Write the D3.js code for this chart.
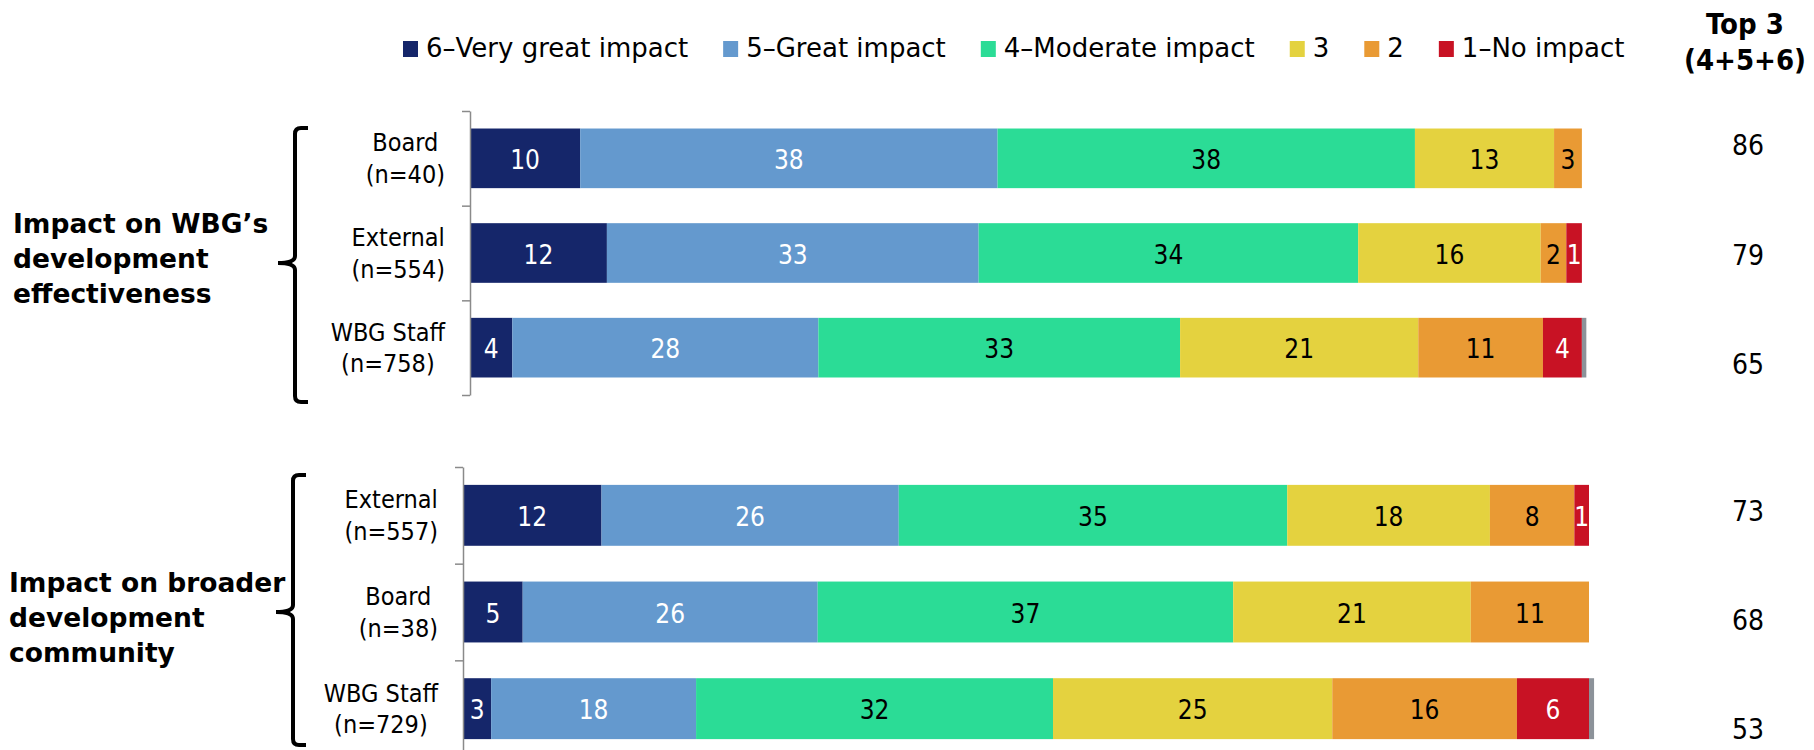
<!DOCTYPE html>
<html>
<head>
<meta charset="utf-8">
<script src="https://cdn.jsdelivr.net/npm/d3@7"></script>
<style>
  body { margin: 0; background: #fff; }
  svg { display: block; }
</style>
</head>
<body>
<svg></svg>
<script>
// impact ratings, stacked 100% bars in two blocks

// --- data ---
const seriesKeys = ['6–Very great impact', '5–Great impact', '4–Moderate impact', '3', '2', '1–No impact', 'No answer'];
const seriesColors = ['#15266a', '#6499ce', '#2bdc96', '#e4d23f', '#e99a34', '#c81224', '#8c9299'];
const darkText = ['4–Moderate impact', '3', '2'];

const effTitle = ['Impact on WBG’s', 'development', 'effectiveness'];
const effRows = [['Board', '(n=40)'], ['External', '(n=554)'], ['WBG Staff', '(n=758)']];
const effValues = [
  [9.9, 37.5, 37.5, 12.5, 2.5, 0, 0],
  [12.3, 33.4, 34.1, 16.4, 2.3, 1.4, 0],
  [3.8, 27.5, 32.5, 21.4, 11.2, 3.5, 0.4]
];
const effTop3 = [86, 79, 65];

const comTitle = ['Impact on broader', 'development', 'community'];
const comRows = [['External', '(n=557)'], ['Board', '(n=38)'], ['WBG Staff', '(n=729)']];
const comValues = [
  [12.3, 26.4, 34.5, 18.0, 7.5, 1.3, 0],
  [5.3, 26.2, 36.9, 21.1, 10.5, 0, 0],
  [2.5, 18.2, 31.7, 24.8, 16.4, 6.4, 0.45]
];
const comTop3 = [73, 68, 53];

const top3Header = ['Top 3', '(4+5+6)'];

// --- setup ---
const width = 1814,
      height = 750;

const condFont = "'DejaVu Sans Condensed', 'DejaVu Sans', sans-serif";
const plainFont = "'DejaVu Sans', Verdana, sans-serif";

const svg = d3.select('svg')
              .attr('width', width)
              .attr('height', height);

const color = d3.scaleOrdinal().domain(seriesKeys).range(seriesColors);

// layout of the two blocks (pixels)
const effLayout = { x0: 470, x1: 1583, y0: 111, y1: 395, braceX: 295, braceTop: 128, braceBot: 402, braceMid: 263,
                    titleX: 13, titleY: 233, top3Range: [145, 364] };
const comLayout = { x0: 463, x1: 1589, y0: 467, y1: 757, braceX: 293, braceTop: 475, braceBot: 745, braceMid: 612,
                    titleX: 9, titleY: 592, top3Range: [511, 729] };

drawBlock(effLayout, effTitle, effRows, effValues, effTop3);
drawBlock(comLayout, comTitle, comRows, comValues, comTop3);
drawLegend();
drawHeader();

function drawBlock(cfg, title, rowLabels, values, top3) {
  const rows = values.map((v, i) => {
    const o = { id: i };
    seriesKeys.forEach((k, j) => o[k] = v[j]);
    return o;
  });
  const ids = rows.map(r => r.id);

  const x = d3.scaleLinear().domain([0, 100]).range([cfg.x0, cfg.x1]);
  const y = d3.scaleBand().domain(ids).range([cfg.y0, cfg.y1])
              .paddingInner(0.37).paddingOuter(0.185);

  const g = svg.append('g');
  const series = d3.stack().keys(seriesKeys)(rows);

  // bars
  g.selectAll('.layer')
    .data(series)
    .join('g')
    .attr('class', 'layer')
    .attr('fill', s => color(s.key))
    .selectAll('rect')
    .data(s => s.filter(d => d[1] - d[0] > 0))
    .join('rect')
    .attr('x', d => x(d[0]))
    .attr('width', d => x(d[1]) - x(d[0]))
    .attr('y', d => y(d.data.id))
    .attr('height', y.bandwidth());

  // value labels
  g.selectAll('.lbl')
    .data(series.filter(s => s.key !== 'No answer'))
    .join('g')
    .attr('class', 'lbl')
    .attr('fill', s => darkText.includes(s.key) ? '#000' : '#fff')
    .selectAll('text')
    .data(s => s.map(d => ({ a: d[0], b: d[1], v: d.data[s.key], id: d.data.id })).filter(d => d.v > 0))
    .join('text')
    .attr('x', d => (x(d.a) + x(d.b)) / 2)
    .attr('y', d => y(d.id) + y.bandwidth() / 2 + 10.5)
    .attr('text-anchor', 'middle')
    .attr('font-family', condFont)
    .attr('font-stretch', 'condensed')
    .attr('font-size', '26px')
    .text(d => Math.round(d.v));

  // axis with ticks between rows
  const yl = d3.scaleLinear().domain([0, 3]).range([cfg.y0, cfg.y1]);
  const ax = g.append('g')
    .attr('transform', 'translate(' + cfg.x0 + ',0)')
    .call(d3.axisLeft(yl).tickValues([0, 1, 2, 3]).tickSize(8).tickSizeOuter(0).tickFormat(''));
  ax.selectAll('path, line').attr('stroke', '#8a8a8a').attr('stroke-width', 1.5);

  // row labels, two lines centred, block right aligned
  const right = cfg.x0 - 25;
  rowLabels.forEach((lines, i) => {
    const c = y(i) + y.bandwidth() / 2;
    const ts = lines.map((t, k) => g.append('text')
      .attr('y', c + (k === 0 ? -7 : 24.5))
      .attr('text-anchor', 'middle')
      .attr('font-family', condFont)
      .attr('font-stretch', 'condensed')
      .attr('font-size', '25px')
      .attr('fill', '#000')
      .text(t));
    const maxW = d3.max(ts, t => t.node().getComputedTextLength());
    ts.forEach(t => t.attr('x', right - maxW / 2));
  });

  // top 3 column
  const p = d3.scalePoint().domain(ids).range(cfg.top3Range);
  g.selectAll('.top3')
    .data(top3)
    .join('text')
    .attr('class', 'top3')
    .attr('x', 1748)
    .attr('y', (d, i) => p(i) + 10)
    .attr('text-anchor', 'middle')
    .attr('font-family', condFont)
    .attr('font-stretch', 'condensed')
    .attr('font-size', '28px')
    .text(d => d);

  // brace
  const bx = cfg.braceX;
  const path = d3.path();
  path.moveTo(bx + 13, cfg.braceTop);
  path.lineTo(bx + 6, cfg.braceTop);
  path.quadraticCurveTo(bx, cfg.braceTop, bx, cfg.braceTop + 6);
  path.lineTo(bx, cfg.braceMid - 7);
  path.quadraticCurveTo(bx, cfg.braceMid, bx - 17, cfg.braceMid);
  path.quadraticCurveTo(bx, cfg.braceMid, bx, cfg.braceMid + 7);
  path.lineTo(bx, cfg.braceBot - 6);
  path.quadraticCurveTo(bx, cfg.braceBot, bx + 6, cfg.braceBot);
  path.lineTo(bx + 13, cfg.braceBot);
  g.append('path')
    .attr('d', path.toString())
    .attr('fill', 'none')
    .attr('stroke', '#000')
    .attr('stroke-width', 4);

  // block title
  g.append('text')
    .attr('font-family', plainFont)
    .attr('font-weight', 'bold')
    .attr('font-size', '26.5px')
    .selectAll('tspan')
    .data(title)
    .join('tspan')
    .attr('x', cfg.titleX)
    .attr('y', (d, i) => cfg.titleY + i * 35)
    .text(d => d);
}

function drawLegend() {
  const legend = svg.append('g');
  let cx = 403;
  seriesKeys.slice(0, 6).forEach(k => {
    legend.append('rect')
      .attr('x', cx).attr('y', 41)
      .attr('width', 15).attr('height', 16)
      .attr('fill', color(k));
    const t = legend.append('text')
      .attr('x', cx + 23).attr('y', 57)
      .attr('font-family', plainFont)
      .attr('font-size', '26px')
      .text(k);
    cx = cx + 23 + t.node().getComputedTextLength() + 35;
  });
}

function drawHeader() {
  svg.append('g')
    .selectAll('text')
    .data(top3Header)
    .join('text')
    .attr('x', 1745)
    .attr('y', (d, i) => i === 0 ? 34 : 70)
    .attr('text-anchor', 'middle')
    .attr('font-family', condFont)
    .attr('font-stretch', 'condensed')
    .attr('font-weight', 'bold')
    .attr('font-size', '29px')
    .text(d => d);
}
</script>
</body>
</html>
